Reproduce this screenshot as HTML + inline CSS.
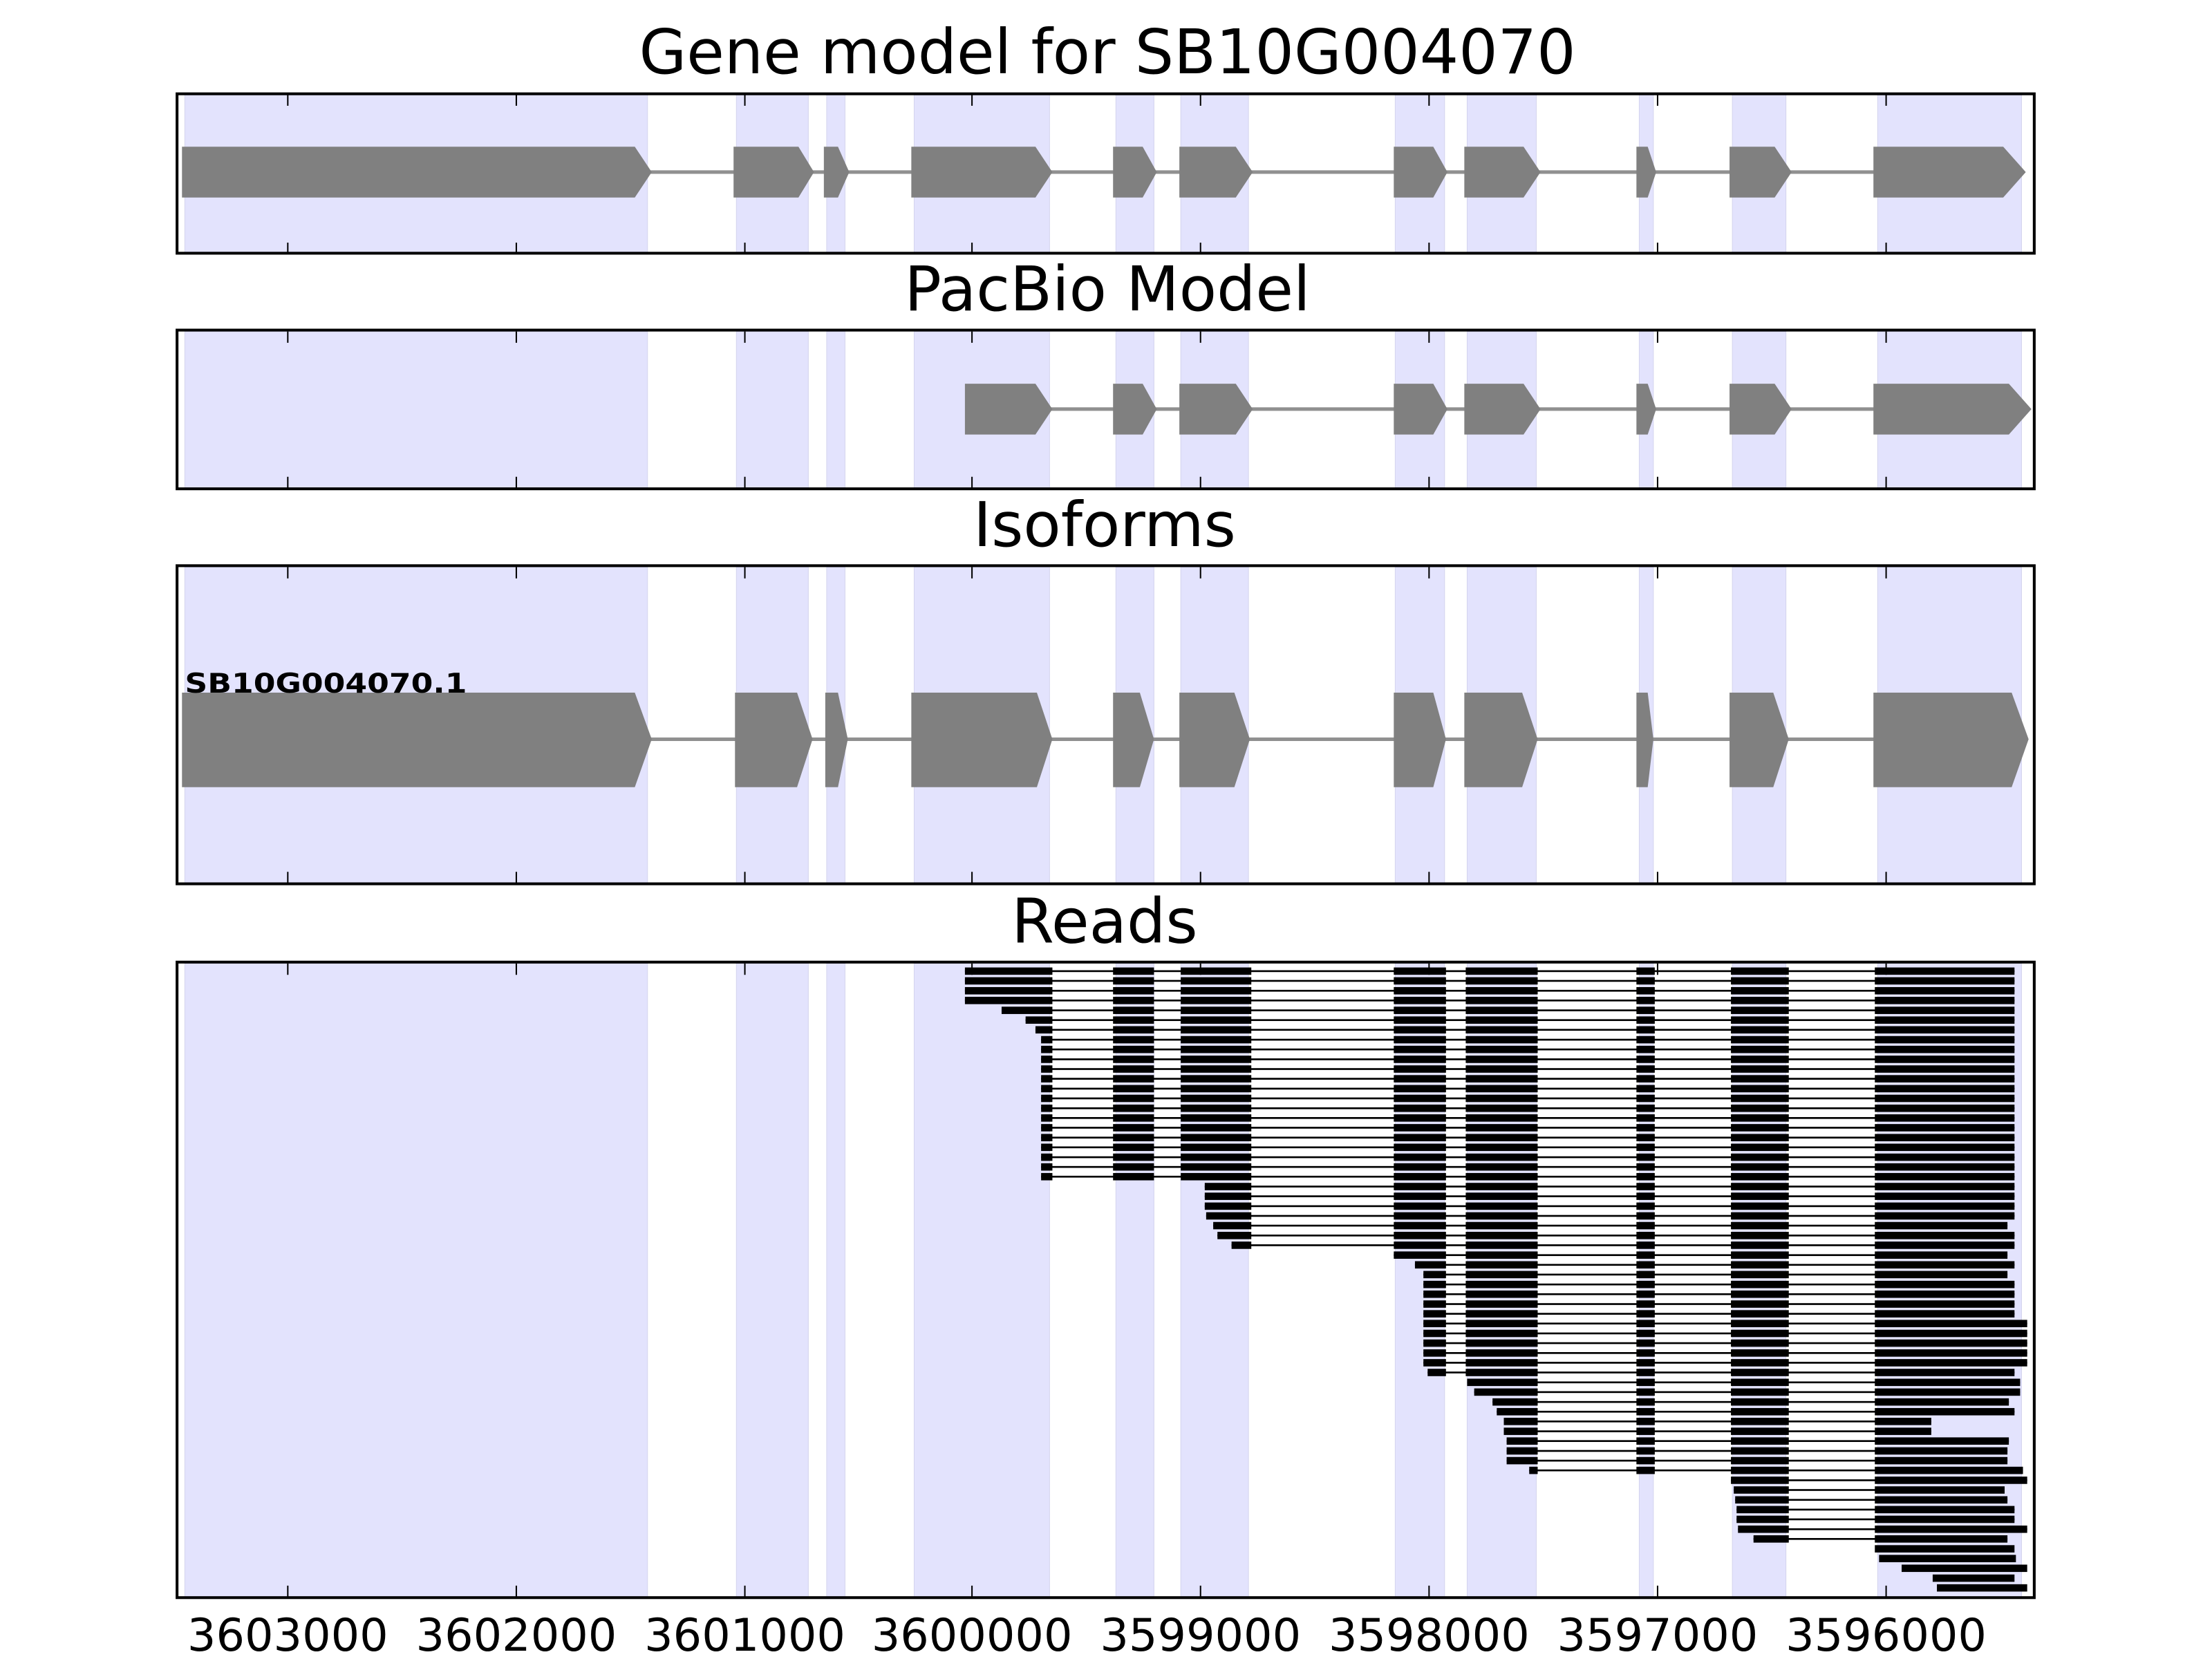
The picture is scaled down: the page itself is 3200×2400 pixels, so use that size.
<!DOCTYPE html>
<html><head><meta charset="utf-8"><style>html,body{margin:0;padding:0;background:#fff}svg{display:block}</style></head>
<body>
<svg xmlns="http://www.w3.org/2000/svg" xmlns:xlink="http://www.w3.org/1999/xlink" width="3200" height="2400" viewBox="0 0 1568 1176" preserveAspectRatio="none" font-family="'DejaVu Sans','Liberation Sans',sans-serif">
<defs>
<g id="sh" fill="#e3e3fd" stroke="#d4d4ee" stroke-width="1" vector-effect="non-scaling-stroke">
<rect x="131" y="0" width="328" height="1" vector-effect="non-scaling-stroke"/><rect x="522" y="0" width="51" height="1" vector-effect="non-scaling-stroke"/><rect x="586" y="0" width="13" height="1" vector-effect="non-scaling-stroke"/><rect x="648" y="0" width="96" height="1" vector-effect="non-scaling-stroke"/><rect x="791" y="0" width="27" height="1" vector-effect="non-scaling-stroke"/><rect x="837" y="0" width="48" height="1" vector-effect="non-scaling-stroke"/><rect x="989" y="0" width="35" height="1" vector-effect="non-scaling-stroke"/><rect x="1040" y="0" width="49" height="1" vector-effect="non-scaling-stroke"/><rect x="1162" y="0" width="10" height="1" vector-effect="non-scaling-stroke"/><rect x="1228" y="0" width="38" height="1" vector-effect="non-scaling-stroke"/><rect x="1331" y="0" width="102" height="1" vector-effect="non-scaling-stroke"/>
</g>
<g id="tk" stroke="#000" stroke-width="1"><path d="M204 0v1M366 0v1M528 0v1M689 0v1M851 0v1M1013 0v1M1175 0v1M1337 0v1"/></g>
<g id="f10"><rect x="1227" y="-2.6" width="41" height="5.2"/></g>
<g id="f9"><rect x="1160" y="-2.6" width="13" height="5.2"/><use xlink:href="#f10"/></g>
<g id="f8"><rect x="1039" y="-2.6" width="51" height="5.2"/><use xlink:href="#f9"/></g>
<g id="f7"><rect x="988" y="-2.6" width="37" height="5.2"/><use xlink:href="#f8"/></g>
<g id="f6"><rect x="837" y="-2.6" width="50" height="5.2"/><use xlink:href="#f7"/></g>
<g id="f5"><rect x="789" y="-2.6" width="29" height="5.2"/><use xlink:href="#f6"/></g>
</defs>

<use xlink:href="#sh" transform="translate(0,67) scale(1,112)"/>
<use xlink:href="#sh" transform="translate(0,235) scale(1,111)"/>
<use xlink:href="#sh" transform="translate(0,402) scale(1,224)"/>
<use xlink:href="#sh" transform="translate(0,683) scale(1,449)"/>

<g font-size="43.5" text-anchor="middle" fill="#000">
<text x="785" y="52">Gene model for SB10G004070</text>
<text x="785" y="220">PacBio Model</text>
<text x="783" y="387">Isoforms</text>
<text x="783" y="668">Reads</text>
</g>

<line x1="450" y1="122" x2="1420" y2="122" stroke="#909090" stroke-width="2.5"/>
<g fill="#808080">
<polygon points="129,104 450,104 462,122 450,140 129,140"/>
<polygon points="520,104 566,104 577,122 566,140 520,140"/>
<polygon points="584,104 594,104 602,122 594,140 584,140"/>
<polygon points="646,104 734,104 746,122 734,140 646,140"/>
<polygon points="789,104 810,104 820,122 810,140 789,140"/>
<polygon points="836,104 876,104 888,122 876,140 836,140"/>
<polygon points="988,104 1016,104 1026,122 1016,140 988,140"/>
<polygon points="1038,104 1080,104 1092,122 1080,140 1038,140"/>
<polygon points="1160,104 1168,104 1174,122 1168,140 1160,140"/>
<polygon points="1226,104 1258,104 1270,122 1258,140 1226,140"/>
<polygon points="1328,104 1420,104 1436,122 1420,140 1328,140"/>
</g>

<line x1="734" y1="290" x2="1424" y2="290" stroke="#909090" stroke-width="2.5"/>
<g fill="#808080">
<polygon points="684,272 734,272 746,290 734,308 684,308"/>
<polygon points="789,272 810,272 820,290 810,308 789,308"/>
<polygon points="836,272 876,272 888,290 876,308 836,308"/>
<polygon points="988,272 1016,272 1026,290 1016,308 988,308"/>
<polygon points="1038,272 1080,272 1092,290 1080,308 1038,308"/>
<polygon points="1160,272 1168,272 1174,290 1168,308 1160,308"/>
<polygon points="1226,272 1258,272 1270,290 1258,308 1226,308"/>
<polygon points="1328,272 1424,272 1440,290 1424,308 1328,308"/>
</g>

<line x1="450" y1="524" x2="1426" y2="524" stroke="#909090" stroke-width="2.5"/>
<g fill="#808080">
<polygon points="129,491 450,491 462,524 450,558 129,558"/>
<polygon points="521,491 565,491 576,524 565,558 521,558"/>
<polygon points="585,491 594,491 601,524 594,558 585,558"/>
<polygon points="646,491 735,491 746,524 735,558 646,558"/>
<polygon points="789,491 808,491 818,524 808,558 789,558"/>
<polygon points="836,491 875,491 886,524 875,558 836,558"/>
<polygon points="988,491 1016,491 1025,524 1016,558 988,558"/>
<polygon points="1038,491 1079,491 1090,524 1079,558 1038,558"/>
<polygon points="1160,491 1168,491 1172,524 1168,558 1160,558"/>
<polygon points="1226,491 1257,491 1268,524 1257,558 1226,558"/>
<polygon points="1328,491 1426,491 1438,524 1426,558 1328,558"/>
</g>
<text x="131" y="491" font-size="19" font-weight="bold" textLength="200" lengthAdjust="spacingAndGlyphs">SB10G004070.1</text>

<g fill="#000" stroke="none">
<g transform="translate(0,688.4)"><rect x="684" y="-0.65" width="744" height="1.3"/><rect x="684" y="-2.6" width="62" height="5.2"/><use xlink:href="#f5"/><rect x="1329" y="-2.6" width="99" height="5.2"/></g>
<g transform="translate(0,695.3)"><rect x="684" y="-0.65" width="744" height="1.3"/><rect x="684" y="-2.6" width="62" height="5.2"/><use xlink:href="#f5"/><rect x="1329" y="-2.6" width="99" height="5.2"/></g>
<g transform="translate(0,702.3)"><rect x="684" y="-0.65" width="744" height="1.3"/><rect x="684" y="-2.6" width="62" height="5.2"/><use xlink:href="#f5"/><rect x="1329" y="-2.6" width="99" height="5.2"/></g>
<g transform="translate(0,709.2)"><rect x="684" y="-0.65" width="744" height="1.3"/><rect x="684" y="-2.6" width="62" height="5.2"/><use xlink:href="#f5"/><rect x="1329" y="-2.6" width="99" height="5.2"/></g>
<g transform="translate(0,716.2)"><rect x="710" y="-0.65" width="718" height="1.3"/><rect x="710" y="-2.6" width="36" height="5.2"/><use xlink:href="#f5"/><rect x="1329" y="-2.6" width="99" height="5.2"/></g>
<g transform="translate(0,723.1)"><rect x="727" y="-0.65" width="701" height="1.3"/><rect x="727" y="-2.6" width="19" height="5.2"/><use xlink:href="#f5"/><rect x="1329" y="-2.6" width="99" height="5.2"/></g>
<g transform="translate(0,730.0)"><rect x="734" y="-0.65" width="694" height="1.3"/><rect x="734" y="-2.6" width="12" height="5.2"/><use xlink:href="#f5"/><rect x="1329" y="-2.6" width="99" height="5.2"/></g>
<g transform="translate(0,737.0)"><rect x="738" y="-0.65" width="690" height="1.3"/><rect x="738" y="-2.6" width="8" height="5.2"/><use xlink:href="#f5"/><rect x="1329" y="-2.6" width="99" height="5.2"/></g>
<g transform="translate(0,743.9)"><rect x="738" y="-0.65" width="690" height="1.3"/><rect x="738" y="-2.6" width="8" height="5.2"/><use xlink:href="#f5"/><rect x="1329" y="-2.6" width="99" height="5.2"/></g>
<g transform="translate(0,750.9)"><rect x="738" y="-0.65" width="690" height="1.3"/><rect x="738" y="-2.6" width="8" height="5.2"/><use xlink:href="#f5"/><rect x="1329" y="-2.6" width="99" height="5.2"/></g>
<g transform="translate(0,757.8)"><rect x="738" y="-0.65" width="690" height="1.3"/><rect x="738" y="-2.6" width="8" height="5.2"/><use xlink:href="#f5"/><rect x="1329" y="-2.6" width="99" height="5.2"/></g>
<g transform="translate(0,764.7)"><rect x="738" y="-0.65" width="690" height="1.3"/><rect x="738" y="-2.6" width="8" height="5.2"/><use xlink:href="#f5"/><rect x="1329" y="-2.6" width="99" height="5.2"/></g>
<g transform="translate(0,771.7)"><rect x="738" y="-0.65" width="690" height="1.3"/><rect x="738" y="-2.6" width="8" height="5.2"/><use xlink:href="#f5"/><rect x="1329" y="-2.6" width="99" height="5.2"/></g>
<g transform="translate(0,778.6)"><rect x="738" y="-0.65" width="690" height="1.3"/><rect x="738" y="-2.6" width="8" height="5.2"/><use xlink:href="#f5"/><rect x="1329" y="-2.6" width="99" height="5.2"/></g>
<g transform="translate(0,785.6)"><rect x="738" y="-0.65" width="690" height="1.3"/><rect x="738" y="-2.6" width="8" height="5.2"/><use xlink:href="#f5"/><rect x="1329" y="-2.6" width="99" height="5.2"/></g>
<g transform="translate(0,792.5)"><rect x="738" y="-0.65" width="690" height="1.3"/><rect x="738" y="-2.6" width="8" height="5.2"/><use xlink:href="#f5"/><rect x="1329" y="-2.6" width="99" height="5.2"/></g>
<g transform="translate(0,799.4)"><rect x="738" y="-0.65" width="690" height="1.3"/><rect x="738" y="-2.6" width="8" height="5.2"/><use xlink:href="#f5"/><rect x="1329" y="-2.6" width="99" height="5.2"/></g>
<g transform="translate(0,806.4)"><rect x="738" y="-0.65" width="690" height="1.3"/><rect x="738" y="-2.6" width="8" height="5.2"/><use xlink:href="#f5"/><rect x="1329" y="-2.6" width="99" height="5.2"/></g>
<g transform="translate(0,813.3)"><rect x="738" y="-0.65" width="690" height="1.3"/><rect x="738" y="-2.6" width="8" height="5.2"/><use xlink:href="#f5"/><rect x="1329" y="-2.6" width="99" height="5.2"/></g>
<g transform="translate(0,820.3)"><rect x="738" y="-0.65" width="690" height="1.3"/><rect x="738" y="-2.6" width="8" height="5.2"/><use xlink:href="#f5"/><rect x="1329" y="-2.6" width="99" height="5.2"/></g>
<g transform="translate(0,827.2)"><rect x="738" y="-0.65" width="690" height="1.3"/><rect x="738" y="-2.6" width="8" height="5.2"/><use xlink:href="#f5"/><rect x="1329" y="-2.6" width="99" height="5.2"/></g>
<g transform="translate(0,834.1)"><rect x="738" y="-0.65" width="690" height="1.3"/><rect x="738" y="-2.6" width="8" height="5.2"/><use xlink:href="#f5"/><rect x="1329" y="-2.6" width="99" height="5.2"/></g>
<g transform="translate(0,841.1)"><rect x="854" y="-0.65" width="574" height="1.3"/><rect x="854" y="-2.6" width="33" height="5.2"/><use xlink:href="#f7"/><rect x="1329" y="-2.6" width="99" height="5.2"/></g>
<g transform="translate(0,848.0)"><rect x="854" y="-0.65" width="574" height="1.3"/><rect x="854" y="-2.6" width="33" height="5.2"/><use xlink:href="#f7"/><rect x="1329" y="-2.6" width="99" height="5.2"/></g>
<g transform="translate(0,855.0)"><rect x="854" y="-0.65" width="574" height="1.3"/><rect x="854" y="-2.6" width="33" height="5.2"/><use xlink:href="#f7"/><rect x="1329" y="-2.6" width="99" height="5.2"/></g>
<g transform="translate(0,861.9)"><rect x="855" y="-0.65" width="573" height="1.3"/><rect x="855" y="-2.6" width="32" height="5.2"/><use xlink:href="#f7"/><rect x="1329" y="-2.6" width="99" height="5.2"/></g>
<g transform="translate(0,868.8)"><rect x="860" y="-0.65" width="563" height="1.3"/><rect x="860" y="-2.6" width="27" height="5.2"/><use xlink:href="#f7"/><rect x="1329" y="-2.6" width="94" height="5.2"/></g>
<g transform="translate(0,875.8)"><rect x="863" y="-0.65" width="565" height="1.3"/><rect x="863" y="-2.6" width="24" height="5.2"/><use xlink:href="#f7"/><rect x="1329" y="-2.6" width="99" height="5.2"/></g>
<g transform="translate(0,882.7)"><rect x="873" y="-0.65" width="555" height="1.3"/><rect x="873" y="-2.6" width="14" height="5.2"/><use xlink:href="#f7"/><rect x="1329" y="-2.6" width="99" height="5.2"/></g>
<g transform="translate(0,889.7)"><rect x="988" y="-0.65" width="435" height="1.3"/><use xlink:href="#f7"/><rect x="1329" y="-2.6" width="94" height="5.2"/></g>
<g transform="translate(0,896.6)"><rect x="1003" y="-0.65" width="425" height="1.3"/><rect x="1003" y="-2.6" width="22" height="5.2"/><use xlink:href="#f8"/><rect x="1329" y="-2.6" width="99" height="5.2"/></g>
<g transform="translate(0,903.5)"><rect x="1009" y="-0.65" width="414" height="1.3"/><rect x="1009" y="-2.6" width="16" height="5.2"/><use xlink:href="#f8"/><rect x="1329" y="-2.6" width="94" height="5.2"/></g>
<g transform="translate(0,910.5)"><rect x="1009" y="-0.65" width="419" height="1.3"/><rect x="1009" y="-2.6" width="16" height="5.2"/><use xlink:href="#f8"/><rect x="1329" y="-2.6" width="99" height="5.2"/></g>
<g transform="translate(0,917.4)"><rect x="1009" y="-0.65" width="419" height="1.3"/><rect x="1009" y="-2.6" width="16" height="5.2"/><use xlink:href="#f8"/><rect x="1329" y="-2.6" width="99" height="5.2"/></g>
<g transform="translate(0,924.4)"><rect x="1009" y="-0.65" width="419" height="1.3"/><rect x="1009" y="-2.6" width="16" height="5.2"/><use xlink:href="#f8"/><rect x="1329" y="-2.6" width="99" height="5.2"/></g>
<g transform="translate(0,931.3)"><rect x="1009" y="-0.65" width="419" height="1.3"/><rect x="1009" y="-2.6" width="16" height="5.2"/><use xlink:href="#f8"/><rect x="1329" y="-2.6" width="99" height="5.2"/></g>
<g transform="translate(0,938.2)"><rect x="1009" y="-0.65" width="428" height="1.3"/><rect x="1009" y="-2.6" width="16" height="5.2"/><use xlink:href="#f8"/><rect x="1329" y="-2.6" width="108" height="5.2"/></g>
<g transform="translate(0,945.2)"><rect x="1009" y="-0.65" width="428" height="1.3"/><rect x="1009" y="-2.6" width="16" height="5.2"/><use xlink:href="#f8"/><rect x="1329" y="-2.6" width="108" height="5.2"/></g>
<g transform="translate(0,952.1)"><rect x="1009" y="-0.65" width="428" height="1.3"/><rect x="1009" y="-2.6" width="16" height="5.2"/><use xlink:href="#f8"/><rect x="1329" y="-2.6" width="108" height="5.2"/></g>
<g transform="translate(0,959.1)"><rect x="1009" y="-0.65" width="428" height="1.3"/><rect x="1009" y="-2.6" width="16" height="5.2"/><use xlink:href="#f8"/><rect x="1329" y="-2.6" width="108" height="5.2"/></g>
<g transform="translate(0,966.0)"><rect x="1009" y="-0.65" width="428" height="1.3"/><rect x="1009" y="-2.6" width="16" height="5.2"/><use xlink:href="#f8"/><rect x="1329" y="-2.6" width="108" height="5.2"/></g>
<g transform="translate(0,972.9)"><rect x="1012" y="-0.65" width="416" height="1.3"/><rect x="1012" y="-2.6" width="13" height="5.2"/><use xlink:href="#f8"/><rect x="1329" y="-2.6" width="99" height="5.2"/></g>
<g transform="translate(0,979.9)"><rect x="1040" y="-0.65" width="392" height="1.3"/><rect x="1040" y="-2.6" width="50" height="5.2"/><use xlink:href="#f9"/><rect x="1329" y="-2.6" width="103" height="5.2"/></g>
<g transform="translate(0,986.8)"><rect x="1045" y="-0.65" width="387" height="1.3"/><rect x="1045" y="-2.6" width="45" height="5.2"/><use xlink:href="#f9"/><rect x="1329" y="-2.6" width="103" height="5.2"/></g>
<g transform="translate(0,993.8)"><rect x="1058" y="-0.65" width="366" height="1.3"/><rect x="1058" y="-2.6" width="32" height="5.2"/><use xlink:href="#f9"/><rect x="1329" y="-2.6" width="95" height="5.2"/></g>
<g transform="translate(0,1000.7)"><rect x="1061" y="-0.65" width="367" height="1.3"/><rect x="1061" y="-2.6" width="29" height="5.2"/><use xlink:href="#f9"/><rect x="1329" y="-2.6" width="99" height="5.2"/></g>
<g transform="translate(0,1007.6)"><rect x="1066" y="-0.65" width="303" height="1.3"/><rect x="1066" y="-2.6" width="24" height="5.2"/><use xlink:href="#f9"/><rect x="1329" y="-2.6" width="40" height="5.2"/></g>
<g transform="translate(0,1014.6)"><rect x="1066" y="-0.65" width="303" height="1.3"/><rect x="1066" y="-2.6" width="24" height="5.2"/><use xlink:href="#f9"/><rect x="1329" y="-2.6" width="40" height="5.2"/></g>
<g transform="translate(0,1021.5)"><rect x="1068" y="-0.65" width="356" height="1.3"/><rect x="1068" y="-2.6" width="22" height="5.2"/><use xlink:href="#f9"/><rect x="1329" y="-2.6" width="95" height="5.2"/></g>
<g transform="translate(0,1028.5)"><rect x="1068" y="-0.65" width="355" height="1.3"/><rect x="1068" y="-2.6" width="22" height="5.2"/><use xlink:href="#f9"/><rect x="1329" y="-2.6" width="94" height="5.2"/></g>
<g transform="translate(0,1035.4)"><rect x="1068" y="-0.65" width="355" height="1.3"/><rect x="1068" y="-2.6" width="22" height="5.2"/><use xlink:href="#f9"/><rect x="1329" y="-2.6" width="94" height="5.2"/></g>
<g transform="translate(0,1042.3)"><rect x="1084" y="-0.65" width="350" height="1.3"/><rect x="1084" y="-2.6" width="6" height="5.2"/><use xlink:href="#f9"/><rect x="1329" y="-2.6" width="105" height="5.2"/></g>
<g transform="translate(0,1049.3)"><rect x="1227" y="-0.65" width="210" height="1.3"/><use xlink:href="#f10"/><rect x="1329" y="-2.6" width="108" height="5.2"/></g>
<g transform="translate(0,1056.2)"><rect x="1229" y="-0.65" width="192" height="1.3"/><rect x="1229" y="-2.6" width="39" height="5.2"/><rect x="1329" y="-2.6" width="92" height="5.2"/></g>
<g transform="translate(0,1063.2)"><rect x="1230" y="-0.65" width="193" height="1.3"/><rect x="1230" y="-2.6" width="38" height="5.2"/><rect x="1329" y="-2.6" width="94" height="5.2"/></g>
<g transform="translate(0,1070.1)"><rect x="1231" y="-0.65" width="197" height="1.3"/><rect x="1231" y="-2.6" width="37" height="5.2"/><rect x="1329" y="-2.6" width="99" height="5.2"/></g>
<g transform="translate(0,1077.0)"><rect x="1231" y="-0.65" width="197" height="1.3"/><rect x="1231" y="-2.6" width="37" height="5.2"/><rect x="1329" y="-2.6" width="99" height="5.2"/></g>
<g transform="translate(0,1084.0)"><rect x="1232" y="-0.65" width="205" height="1.3"/><rect x="1232" y="-2.6" width="36" height="5.2"/><rect x="1329" y="-2.6" width="108" height="5.2"/></g>
<g transform="translate(0,1090.9)"><rect x="1243" y="-0.65" width="180" height="1.3"/><rect x="1243" y="-2.6" width="25" height="5.2"/><rect x="1329" y="-2.6" width="94" height="5.2"/></g>
<g transform="translate(0,1097.9)"><rect x="1329" y="-2.6" width="99" height="5.2"/></g>
<g transform="translate(0,1104.8)"><rect x="1332" y="-2.6" width="97" height="5.2"/></g>
<g transform="translate(0,1111.7)"><rect x="1348" y="-2.6" width="89" height="5.2"/></g>
<g transform="translate(0,1118.7)"><rect x="1370" y="-2.6" width="58" height="5.2"/></g>
<g transform="translate(0,1125.6)"><rect x="1373" y="-2.6" width="64" height="5.2"/></g>
</g>

<use xlink:href="#tk" transform="translate(0,67) scale(1,8)"/>
<use xlink:href="#tk" transform="translate(0,172) scale(1,8)"/>
<use xlink:href="#tk" transform="translate(0,235) scale(1,8)"/>
<use xlink:href="#tk" transform="translate(0,338) scale(1,8)"/>
<use xlink:href="#tk" transform="translate(0,402) scale(1,8)"/>
<use xlink:href="#tk" transform="translate(0,618) scale(1,8)"/>
<use xlink:href="#tk" transform="translate(0,683) scale(1,8)"/>
<use xlink:href="#tk" transform="translate(0,1124) scale(1,8)"/>

<g fill="none" stroke="#000" stroke-width="2">
<rect x="125.5" y="66.5" width="1316.5" height="113"/>
<rect x="125.5" y="234" width="1316.5" height="112.5"/>
<rect x="125.5" y="401" width="1316.5" height="225.5"/>
<rect x="125.5" y="682" width="1316.5" height="450.5"/>
</g>

<g font-size="32" text-anchor="middle" fill="#000">
<text x="204" y="1170">3603000</text>
<text x="366" y="1170">3602000</text>
<text x="528" y="1170">3601000</text>
<text x="689" y="1170">3600000</text>
<text x="851" y="1170">3599000</text>
<text x="1013" y="1170">3598000</text>
<text x="1175" y="1170">3597000</text>
<text x="1337" y="1170">3596000</text>
</g>
</svg>
</body></html>
